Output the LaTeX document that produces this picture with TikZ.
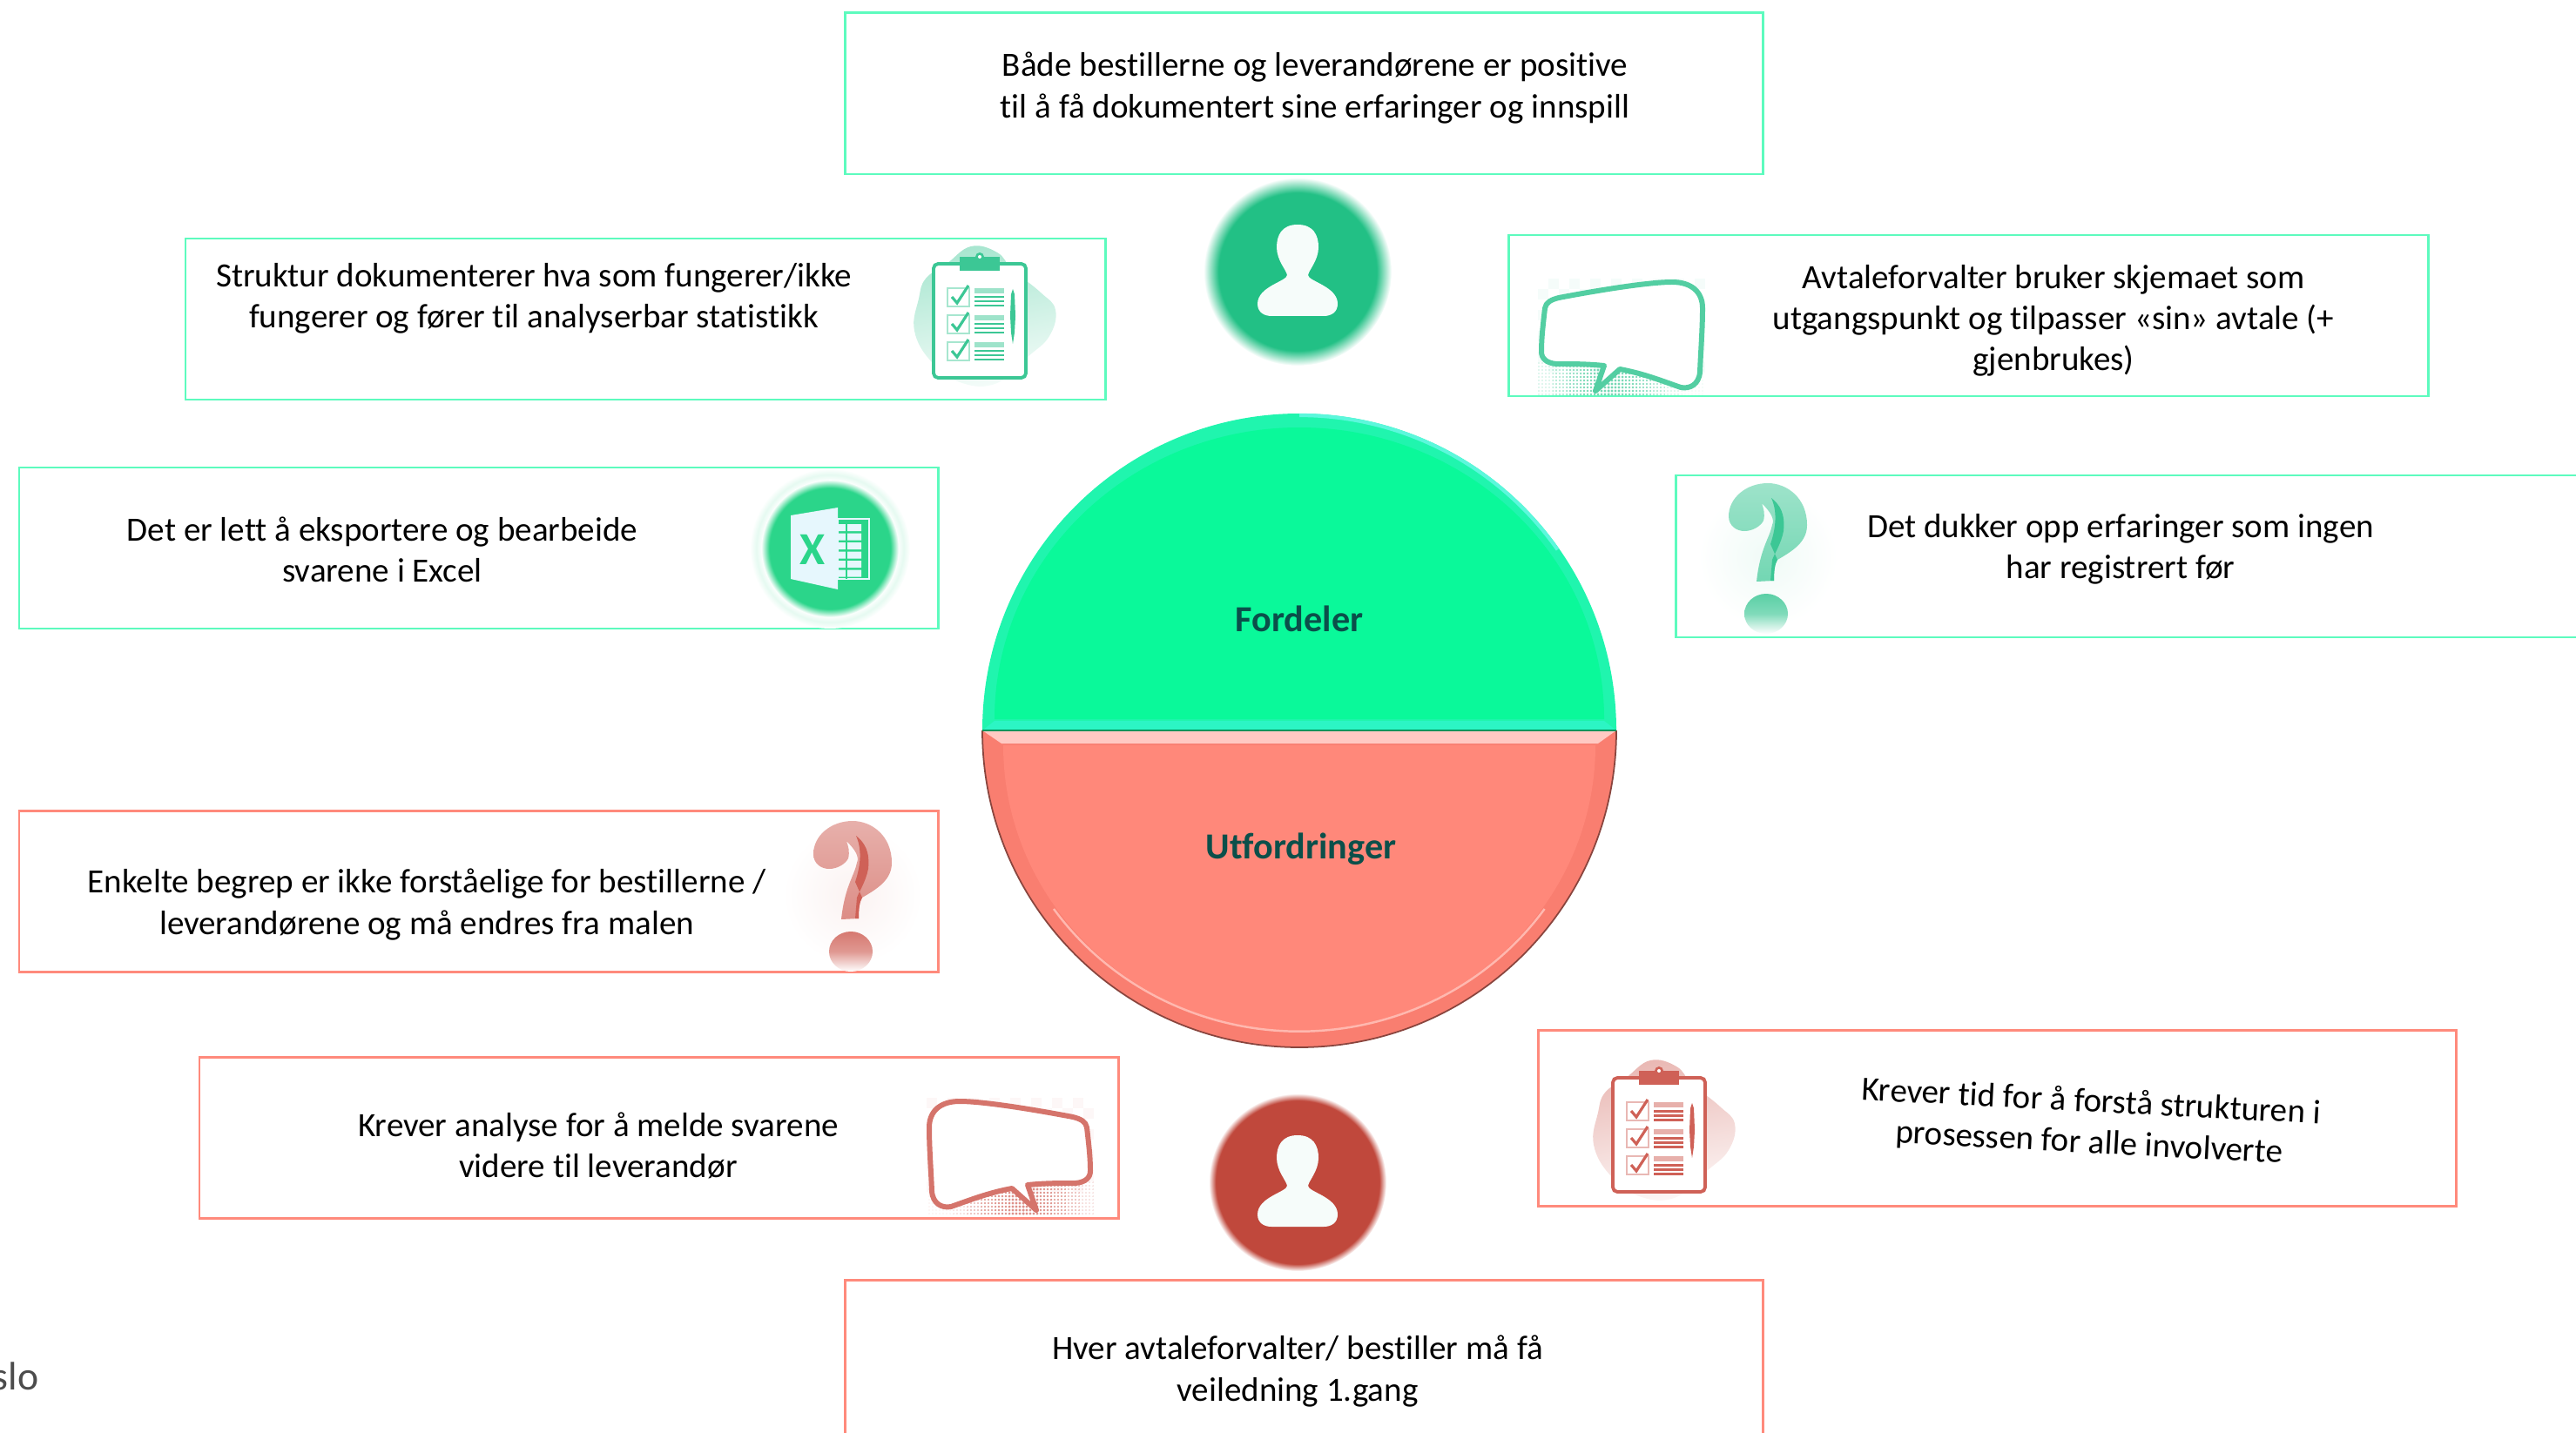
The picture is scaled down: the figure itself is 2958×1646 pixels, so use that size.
\documentclass[tikz,border=0pt]{standalone}
\usepackage{fontspec}
\setmainfont{Carlito}[Ligatures=NoCommon]
\definecolor{fordelline}{HTML}{5DFBBE}
\definecolor{utfordline}{HTML}{FF8A7C}
\definecolor{fordelfill}{HTML}{0AF99A}
\definecolor{fordelrim}{HTML}{20F5AE}
\definecolor{fordelshine}{HTML}{5CF7DC}
\definecolor{fordelbase}{HTML}{2CF5C4}
\definecolor{utfordfill}{HTML}{FF887A}
\definecolor{utfordrim}{HTML}{F97E70}
\definecolor{icongreen}{HTML}{3CC795}
\definecolor{iconred}{HTML}{CF6157}
\definecolor{persongreen}{HTML}{22C085}
\definecolor{personred}{HTML}{C0483C}
\definecolor{excelgreen}{HTML}{2BD58A}
\definecolor{labeldark}{HTML}{0B4F4A}
\pgfdeclareradialshading{greenglow}{\pgfpointorigin}{color(0bp)=(persongreen); color(21bp)=(persongreen); color(25bp)=(white)}
\pgfdeclareradialshading{redglow}{\pgfpointorigin}{color(0bp)=(personred); color(23bp)=(personred); color(25bp)=(white)}
\pgfdeclareradialshading{excelglow}{\pgfpointorigin}{color(0bp)=(excelgreen); color(22bp)=(excelgreen); color(25bp)=(white)}
\pgfdeclareradialshading{excelring}{\pgfpointorigin}{color(0bp)=(white); color(21bp)=(white); color(23bp)=(excelgreen!12!white); color(25bp)=(white)}
\tikzset{
 fordelbox/.style={draw=fordelline,line width=0.85pt},
 utfordbox/.style={draw=utfordline,line width=0.85pt},
 boxtext/.style={align=center,font=\fontsize{11.1}{13.4}\selectfont,text=black,inner sep=0pt},
 halflabel/.style={font=\fontsize{12}{14}\selectfont\bfseries,text=labeldark,inner sep=0pt},
 pics/checkboard/.style={code={
  \shade[top color=#1!45!white,bottom color=#1!5!white,shading angle=10] plot[smooth cycle,tension=0.7] coordinates {(-10,-85) (20,-78) (38,-58) (70,-32) (87,-12) (80,18) (55,42) (20,72) (-20,72) (-55,48) (-75,12) (-70,-25) (-62,-48) (-38,-65)};
  \draw[#1,fill=white,line width=1.1pt,rounded corners=1.5pt] (-53,-65) rectangle (53,66);
  \fill[#1] (-23,-73) rectangle (23,-57);
  \fill[#1] (0,-73) circle (5);
  \fill[white] (0,-73) circle (2);
  \foreach \r in {-37,-6,25}{
   \draw[#1!45!white,line width=0.6pt] (-37,\r) rectangle (-12,\r+21);
   \draw[#1,line width=0.9pt] (-32,\r+10) -- (-26,\r+17) -- (-13,\r-3);
   \fill[#1!50!white] (-6,\r) rectangle (28,\r+6);
   \fill[#1] (-6,\r+9) rectangle (28,\r+11.5);
   \fill[#1] (-6,\r+14) rectangle (28,\r+16.5);
   \fill[#1] (-6,\r+19) rectangle (28,\r+21.5);
  }
  \fill[#1] (36,-30) -- (38,-36) -- (40,-30) -- (41,-5) -- (40,14) -- (38,27) -- (36,14) -- (35,-5) -- cycle;
 }},
 pics/talkbubble/.style={code={
  %pale squares
  \foreach \i in {0,...,15}{
   \foreach \j in {0,...,8}{
    \ifodd\numexpr\i+\j\relax
     \fill[#1!5!white] (-96+12*\i,-67+12*\j) rectangle +(12,12);
    \fi
   }
  }
  %dots below the bubble
  \foreach \x in {-95,-91,...,95}{
   \foreach \y in {30,34,...,66}{
    \pgfmathsetmacro{\dotr}{max(0.35,1.75*(1-abs(\x+15)/115))}
    \fill[#1!70!white] (\x,\y) circle [radius=\dotr];
   }
  }
  \draw[#1!88!white,fill=white,line width=1.7pt,line join=round] (-72,-45) .. controls (-30,-53) and (30,-63) .. (58,-63) .. controls (80,-63) and (93,-52) .. (93,-33) .. controls (93,-10) and (91,15) .. (90,40) .. controls (89,55) and (78,60) .. (68,58) .. controls (45,50) and (25,42) .. (-2,37) -- (-30,62) -- (-20,33) .. controls (-40,31) and (-55,31) .. (-75,31) .. controls (-86,30) and (-92,25) .. (-92,17) .. controls (-92,0) and (-90,-15) .. (-88,-33) .. controls (-87,-40) and (-80,-43) .. (-72,-45) -- cycle;
 }},
 pics/askmark/.style={code={
  \shade[inner color=#1!8!white,outer color=white] (0,0) circle (80);
  \shade[top color=#1!50!white,bottom color=#1!72!white] (-7,-62) .. controls (3,-52) and (8,-44) .. (5,-37) .. controls (2,-22) and (-9,-10) .. (-13,28) -- (7,27) .. controls (7,15) and (8,8) .. (11,3) .. controls (30,-8) and (45,-18) .. (45,-37) .. controls (45,-68) and (22,-85) .. (0,-85) .. controls (-25,-85) and (-45,-68) .. (-45,-47) .. controls (-45,-36) and (-36,-30) .. (-27,-30) .. controls (-17,-30) and (-8,-36) .. (-5,-42) .. controls (-3,-50) and (-5,-56) .. (-7,-62) -- cycle;
  \fill[#1] (4,-68) .. controls (14,-60) and (20,-50) .. (18,-30) .. controls (15,-15) and (8,-5) .. (5,3) -- (3,27) -- (7,27) .. controls (7,15) and (8,8) .. (11,3) -- (3,-15) .. controls (8,-30) and (12,-50) .. (4,-68) -- cycle;
  \shade[top color=#1!85!white,bottom color=white,middle color=#1!65!white] (-2,65) ellipse [x radius=25,y radius=23];
 }},
 pics/personmark/.style 2 args={code={
  \shade[shading=#1] (0,0) circle (#2);
  \fill[white!96!persongreen] (0,-54) .. controls (18,-54) and (24,-42) .. (24,-28) .. controls (24,-13) and (13,-2) .. (12,4) .. controls (12,11) and (46,17) .. (46,37) .. controls (46,47) and (38,51) .. (30,51) -- (-30,51) .. controls (-38,51) and (-46,47) .. (-46,37) .. controls (-46,17) and (-12,11) .. (-12,4) .. controls (-13,-2) and (-24,-13) .. (-24,-28) .. controls (-24,-42) and (-18,-54) .. (0,-54) -- cycle;
 }},
}
\begin{document}
\begin{tikzpicture}[x=0.01cm,y=-0.01cm]
\useasboundingbox (0,0) rectangle (2958,1646);

%boxes fordeler
\draw[fordelbox] (970,15) rectangle (2024,200);
\draw[fordelbox] (213,274) rectangle (1269,459);
\draw[fordelbox] (1732,270) rectangle (2788,455);
\draw[fordelbox] (22,537) rectangle (1077,722);
\draw[fordelbox] (1924,546) rectangle (3000,732);
%boxes utfordringer
\draw[utfordbox] (22,931) rectangle (1077,1116);
\draw[utfordbox] (229,1214) rectangle (1284,1399);
\draw[utfordbox] (1766,1183) rectangle (2820,1385);
\draw[utfordbox] (970,1470) rectangle (2024,1700);

%upper half
\fill[fordelrim] (1128,839) arc [start angle=180,end angle=360,radius=364] -- cycle;
\draw[fordelshine,line width=1.2pt] (1492,477) arc [start angle=270,end angle=325,radius=362];
\fill[fordelfill] (1142,826) arc [start angle=180,end angle=360,x radius=350,y radius=335] -- cycle;
\fill[fordelbase] (1128,839) -- (1142,828) -- (1842,828) -- (1856,839) -- cycle;
%lower half
\fill[utfordrim] (1128,839) arc [start angle=180,end angle=360,x radius=364,y radius=-364] -- cycle;
\fill[utfordfill] (1152,856) arc [start angle=180,end angle=360,x radius=340,y radius=-328] -- cycle;
\draw[white!40!utfordfill,line width=0.7pt] (1210,1044) arc [start angle=215,end angle=325,x radius=344,y radius=-330];
\fill[white!55!utfordfill] (1128,839) -- (1856,839) -- (1835,854) -- (1150,854) -- cycle;
\draw[black!45!utfordrim,line width=0.5pt] (1128,839) arc [start angle=180,end angle=360,x radius=364,y radius=-364];
\draw[black!40!fordelfill,line width=0.3pt] (1128,839) -- (1856,839);

\node[halflabel] (fordeler) at (1492,711) {Fordeler};
\node[halflabel] (utfordringer) at (1494,975) {Utfordringer};

%person icons
\pic at (1490,312) {personmark={greenglow}{108}};
\pic at (1490,1358) {personmark={redglow}{102}};

%icons fordeler
\pic at (1125,368) {checkboard=icongreen};
\pic at (1862,387) {talkbubble=icongreen};
\pic at (2030,640) {askmark=icongreen};
%excel icon
\shade[shading=excelring] (953,630) circle (92);
\shade[shading=excelglow] (953,630) circle (79);
\fill[white!90!cyan] (908,592) -- (962,583) -- (962,677) -- (908,665) -- cycle;
\draw[white!90!cyan,line width=0.5pt] (962,596) rectangle (998,665);
\fill[white!90!cyan] \foreach \r in {0,1,2,3,4,5}{(962,602+10.5*\r) rectangle (989,610+10.5*\r)};
\draw[excelgreen,line width=0.5pt] (972,598) -- (972,665);
\node[font=\fontsize{15}{15}\selectfont\bfseries,text=excelgreen,inner sep=0pt] (excelx) at (933,631) {X};

%icons utfordringer
\pic at (979,1028) {askmark=iconred};
\pic[xscale=-1] at (1160,1328) {talkbubble=iconred};
\pic at (1905,1303) {checkboard=iconred};

%texts
\node[boxtext] (toptext) at (1510,101) {Både bestillerne og leverandørene er positive\\til å få dokumentert sine erfaringer og innspill};
\node[boxtext] (strukturtext) at (613,343) {Struktur dokumenterer hva som fungerer/ikke\\fungerer og fører til analyserbar statistikk};
\node[boxtext] (skjematext) at (2358,368) {Avtaleforvalter bruker skjemaet som\\utgangspunkt og tilpasser «sin» avtale (+\\gjenbrukes)};
\node[boxtext] (exceltext) at (439,631) {Det er lett å eksportere og bearbeide\\svarene i Excel};
\node[boxtext] (erfartext) at (2435,631) {Det dukker opp erfaringer som ingen\\har registrert før};
\node[boxtext] (begreptext) at (490,1039) {Enkelte begrep er ikke forståelige for bestillerne /\\leverandørene og må endres fra malen};
\node[boxtext] (analysetext) at (687,1316) {Krever analyse for å melde svarene\\videre til leverandør};
\node[boxtext,rotate=-3] (tidtext) at (2400,1290) {Krever tid for å forstå strukturen i\\prosessen for alle involverte};
\node[boxtext] (veiledtext) at (1490,1575) {Hver avtaleforvalter/ bestiller må få\\veiledning 1.gang};
\node[font=\fontsize{13}{15}\selectfont,text=black!70,anchor=base east,inner sep=0pt] (oslotext) at (45,1596) {slo};
\end{tikzpicture}
\end{document}
